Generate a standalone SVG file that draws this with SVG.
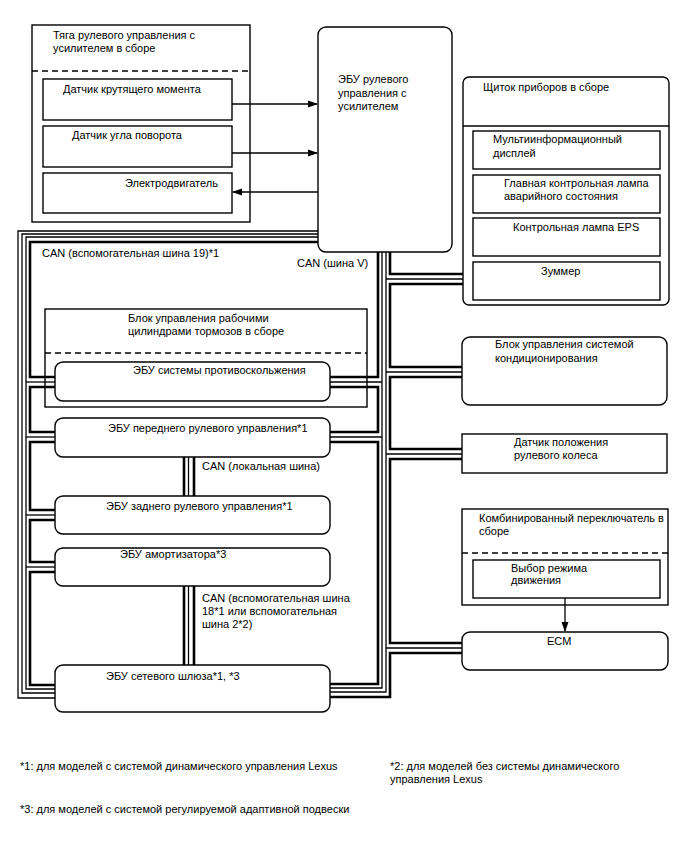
<svg xmlns="http://www.w3.org/2000/svg" width="688" height="852" viewBox="0 0 688 852">
<defs>
<style>
text{font-family:"Liberation Sans",Arial,sans-serif;font-size:11px;fill:#000}
.fn{font-size:11px}
.box{fill:#fff;stroke:#000;stroke-width:1.4}
.dash{fill:none;stroke:#000;stroke-width:1.3;stroke-dasharray:6 4}
.line{fill:none;stroke:#000;stroke-width:1.3}
.thin{fill:none;stroke:#000;stroke-width:1.3}
.thick{fill:none;stroke:#000;stroke-width:2.6}
</style>
<marker id="ah" markerWidth="10" markerHeight="8" refX="9" refY="4" orient="auto" markerUnits="userSpaceOnUse">
<path d="M0,0.5 L10,4 L0,7.5 Z" fill="#000"/>
</marker>
</defs>
<rect width="688" height="852" fill="#fff"/>

<g id="linkage">
<rect class="box" x="32" y="25" width="218" height="197"/>
<line class="dash" x1="32" y1="71" x2="250" y2="71"/>
<text x="53" y="39">Тяга рулевого управления с</text>
<text x="53" y="52">усилителем в сборе</text>
</g>
<g id="torque-sensor">
<rect class="box" x="43" y="79" width="189" height="41"/>
<text x="63" y="93">Датчик крутящего момента</text>
</g>
<g id="angle-sensor">
<rect class="box" x="43" y="126" width="189" height="41"/>
<text x="72" y="139">Датчик угла поворота</text>
</g>
<g id="motor">
<rect class="box" x="43" y="173" width="189" height="40"/>
<text x="125" y="187">Электродвигатель</text>
</g>

<g id="eps-ecu">
<rect class="box" x="318" y="27" width="134" height="225" rx="8"/>
<text x="338" y="83">ЭБУ рулевого</text>
<text x="338" y="97">управления с</text>
<text x="338" y="110">усилителем</text>
</g>

<g id="cluster">
<rect class="box" x="463" y="77" width="206" height="228" rx="6"/>
<line class="line" x1="463" y1="126" x2="669" y2="126"/>
<text x="483" y="91">Щиток приборов в сборе</text>
</g>
<g id="multi-display">
<rect class="box" x="473" y="131" width="187" height="38"/>
<text x="493" y="143">Мультиинформационный</text>
<text x="493" y="157">дисплей</text>
</g>
<g id="master-warning">
<rect class="box" x="473" y="175" width="187" height="38"/>
<text x="504" y="187">Главная контрольная лампа</text>
<text x="504" y="200">аварийного состояния</text>
</g>
<g id="eps-lamp">
<rect class="box" x="473" y="218" width="187" height="38"/>
<text x="513" y="231">Контрольная лампа EPS</text>
</g>
<g id="buzzer">
<rect class="box" x="473" y="262" width="187" height="38"/>
<text x="541" y="275">Зуммер</text>
</g>

<g id="brake-actuator">
<rect class="box" x="45" y="309" width="322" height="98"/>
<line class="dash" x1="45" y1="353" x2="367" y2="353"/>
<text x="128" y="322">Блок управления рабочими</text>
<text x="128" y="335">цилиндрами тормозов в сборе</text>
</g>
<g id="skid-ecu">
<rect class="box" x="55" y="362" width="275" height="39" rx="8"/>
<text x="133" y="374">ЭБУ системы противоскольжения</text>
</g>
<g id="front-steer-ecu">
<rect class="box" x="55" y="418" width="275" height="39" rx="8"/>
<text x="108" y="432">ЭБУ переднего рулевого управления*1</text>
</g>
<g id="rear-steer-ecu">
<rect class="box" x="55" y="496" width="275" height="38" rx="8"/>
<text x="106" y="510">ЭБУ заднего рулевого управления*1</text>
</g>
<g id="damper-ecu">
<rect class="box" x="55" y="548" width="275" height="38" rx="8"/>
<text x="120" y="558">ЭБУ амортизатора*3</text>
</g>
<g id="gateway-ecu">
<rect class="box" x="55" y="665" width="275" height="47" rx="8"/>
<text x="106" y="680">ЭБУ сетевого шлюза*1, *3</text>
</g>

<g id="ac-amp">
<rect class="box" x="462" y="337" width="205" height="68" rx="8"/>
<text x="495" y="348">Блок управления системой</text>
<text x="495" y="362">кондиционирования</text>
</g>
<g id="steer-sensor">
<rect class="box" x="462" y="434" width="205" height="39"/>
<text x="514" y="446">Датчик положения</text>
<text x="514" y="459">рулевого колеса</text>
</g>
<g id="combo-switch">
<rect class="box" x="462" y="509" width="206" height="96"/>
<line class="dash" x1="462" y1="553" x2="668" y2="553"/>
<text x="479" y="522">Комбинированный переключатель в</text>
<text x="479" y="535">сборе</text>
</g>
<g id="drive-mode">
<rect class="box" x="473" y="560" width="187" height="38"/>
<text x="511" y="572">Выбор режима</text>
<text x="511" y="584">движения</text>
</g>
<g id="ecm">
<rect class="box" x="462" y="632" width="206" height="38" rx="8"/>
<text x="547" y="645">ECM</text>
</g>

<g id="connectors">
<line class="line" x1="232" y1="104" x2="317" y2="104" marker-end="url(#ah)"/>
<line class="line" x1="232" y1="153" x2="317" y2="153" marker-end="url(#ah)"/>
<line class="line" x1="318" y1="192" x2="233" y2="192" marker-end="url(#ah)"/>
<line class="line" x1="565" y1="598" x2="565" y2="631" marker-end="url(#ah)"/>

<!-- left bundle -->
<polyline class="thin" points="318,231 18,231 18,698 55,698"/>
<polyline class="thin" points="318,234 22,234 22,693 55,693"/>
<polyline class="thin" points="318,237 26,237 26,689 55,689"/>
<line class="thin" x1="26" y1="382" x2="55" y2="382"/>
<line class="thin" x1="26" y1="437" x2="55" y2="437"/>
<line class="thin" x1="26" y1="515" x2="55" y2="515"/>
<line class="thin" x1="26" y1="567" x2="55" y2="567"/>
<polyline class="thick" points="318,242 30,242 30,377 55,377"/>
<polyline class="thick" points="55,387 30,387 30,432 55,432"/>
<polyline class="thick" points="55,442 30,442 30,510 55,510"/>
<polyline class="thick" points="55,520 30,520 30,562 55,562"/>
<polyline class="thick" points="55,572 30,572 30,685 55,685"/>

<!-- right bundle -->
<polyline class="thick" points="378,252 378,377 330,377"/>
<polyline class="thick" points="330,387 378,387 378,432 330,432"/>
<polyline class="thick" points="330,442 378,442 378,684 330,684"/>
<polyline class="thin" points="382,252 382,688 330,688"/>
<line class="thin" x1="330" y1="382" x2="382" y2="382"/>
<line class="thin" x1="330" y1="437" x2="382" y2="437"/>
<polyline class="thin" points="386,252 386,692 330,692"/>
<line class="thin" x1="386" y1="279" x2="463" y2="279"/>
<line class="thin" x1="386" y1="372" x2="462" y2="372"/>
<line class="thin" x1="386" y1="454" x2="462" y2="454"/>
<line class="thin" x1="386" y1="648" x2="462" y2="648"/>
<polyline class="thick" points="390,252 390,274 463,274"/>
<polyline class="thick" points="463,284 390,284 390,367 462,367"/>
<polyline class="thick" points="462,377 390,377 390,449 462,449"/>
<polyline class="thick" points="462,459 390,459 390,643 462,643"/>
<polyline class="thick" points="462,653 390,653 390,697 330,697"/>

<!-- local bus -->
<line class="thick" x1="184" y1="457" x2="184" y2="496"/>
<line class="thin" x1="188.5" y1="457" x2="188.5" y2="496"/>
<line class="thick" x1="194" y1="457" x2="194" y2="496"/>
<!-- sub bus 18 / 2 -->
<line class="thick" x1="184" y1="586" x2="184" y2="665"/>
<line class="thin" x1="188.5" y1="586" x2="188.5" y2="665"/>
<line class="thick" x1="194" y1="586" x2="194" y2="665"/>
</g>

<g id="labels">
<text x="42" y="257">CAN (вспомогательная шина 19)*1</text>
<text x="297" y="267">CAN (шина V)</text>
<text x="202" y="470">CAN (локальная шина)</text>
<text x="202" y="602">CAN (вспомогательная шина</text>
<text x="202" y="615">18*1 или вспомогательная</text>
<text x="202" y="628">шина 2*2)</text>
<text class="fn" x="20" y="770">*1: для моделей с системой динамического управления Lexus</text>
<text class="fn" x="390" y="770">*2: для моделей без системы динамического</text>
<text class="fn" x="390" y="783">управления Lexus</text>
<text class="fn" x="20" y="813">*3: для моделей с системой регулируемой адаптивной подвески</text>
</g>
</svg>
